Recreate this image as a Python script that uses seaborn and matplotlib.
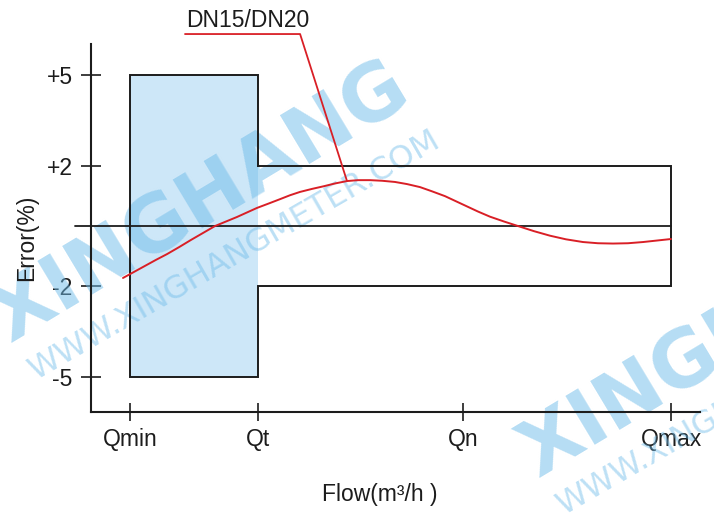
import matplotlib
matplotlib.use("Agg")
import matplotlib.pyplot as plt
import seaborn as sns

# flow points on the x axis (qualitative, no units in the picture)
flow_labels = ["Qmin", "Qt", "Qn", "Qmax"]
flow_pos = [1.30, 2.58, 4.63, 6.71]

# maximum permissible error (%)
mpe_low_zone = 5    # Qmin .. Qt
mpe_high_zone = 2   # Qt .. Qmax
error_ticks = [5, 2, -2, -5]
error_tick_labels = ["+5", "+2", "-2", "-5"]

# DN15/DN20 error curve
curve_flow = [1.23, 1.34, 1.45, 1.56, 1.67, 1.79, 1.91, 2.03, 2.15, 2.26,
              2.37, 2.47, 2.57, 2.69, 2.80, 2.90, 3.00, 3.12, 3.24, 3.35,
              3.47, 3.58, 3.70, 3.82, 3.95, 4.07, 4.20, 4.32, 4.45, 4.56,
              4.67, 4.78, 4.90, 5.04, 5.18, 5.34, 5.50, 5.66, 5.83, 5.98,
              6.13, 6.28, 6.43, 6.57, 6.71]
curve_error = [-1.72, -1.52, -1.32, -1.12, -0.93, -0.70, -0.46, -0.23, 0.00, 0.15,
               0.30, 0.45, 0.60, 0.75, 0.89, 1.02, 1.13, 1.23, 1.32, 1.41,
               1.49, 1.52, 1.52, 1.50, 1.46, 1.39, 1.29, 1.15, 0.99, 0.82,
               0.65, 0.48, 0.31, 0.15, 0.00, -0.17, -0.32, -0.44, -0.53, -0.57,
               -0.58, -0.57, -0.53, -0.48, -0.43]
curve_label = "DN15/DN20"
label_point = 20  # index of the curve point the leader line goes to

RED = "#d91f26"
BLUE_FILL = "#cde7f8"
INK = "#1c1c1c"

sns.set_style("white")
plt.rcParams["font.family"] = ["Liberation Sans Narrow", "Liberation Sans", "DejaVu Sans"]

W, H = 714, 514
fig = plt.figure(figsize=(W / 100, H / 100), dpi=100)
ax = fig.add_axes([91 / W, 102 / H, 609 / W, 368 / H])
ax.set_xlim(0.91, 7.00)
ax.set_ylim(-6.16, 6.03)

qmin, qt, qn, qmax = flow_pos

# low flow zone (+-5%)
ax.fill_between([qmin, qt], -mpe_low_zone, mpe_low_zone, color=BLUE_FILL,
                lw=0, zorder=1)

# watermark (sits over the fill, under the lines)
def watermark(px, py, big=True):
    if big:
        ax.text(px / W, 1 - py / H, "XINGHANG", transform=fig.transFigure,
                rotation=31, rotation_mode="anchor", ha="left", va="baseline",
                fontsize=56, fontweight="heavy", family="DejaVu Sans",
                color="#6dbbe9", alpha=0.5, zorder=1.5)
    else:
        ax.text(px / W, 1 - py / H, "WWW.XINGHANGMETER.COM",
                transform=fig.transFigure, rotation=30, rotation_mode="anchor",
                ha="left", va="baseline", fontsize=23, family="DejaVu Sans",
                color="#6dbbe9", alpha=0.45, zorder=1.5)


watermark(10, 343)
watermark(36, 380, big=False)
watermark(538, 478)
watermark(564, 515, big=False)

# error envelope outline
env_x = [qt, qt, qmin, qmin, qt, qt, qmax, qmax, qt]
env_y = [mpe_high_zone, mpe_low_zone, mpe_low_zone, -mpe_low_zone, -mpe_low_zone,
         -mpe_high_zone, -mpe_high_zone, mpe_high_zone, mpe_high_zone]
ax.plot(env_x, env_y, color=INK, lw=1.4, zorder=2, solid_joinstyle="miter")

# zero line
ax.plot([0.75, qmax], [0, 0], color=INK, lw=1.3, zorder=2, clip_on=False)

# error curve
sns.lineplot(x=curve_flow, y=curve_error, ax=ax, color=RED, lw=1.4,
             sort=False, zorder=3)

# curve label with leader line
ax.text(1.86, 6.59, curve_label, ha="left", va="baseline", fontsize=16.5,
        color=INK, clip_on=False)
ax.annotate("", xy=(curve_flow[label_point], curve_error[label_point]),
            xytext=(1.85, 6.36), annotation_clip=False,
            arrowprops=dict(arrowstyle="-", color=RED, lw=1.3, shrinkA=0,
                            shrinkB=0,
                            connectionstyle="angle,angleA=0,angleB=107.7,rad=0"))

# axes
for side in ["top", "right"]:
    ax.spines[side].set_visible(False)
for side in ["left", "bottom"]:
    ax.spines[side].set_linewidth(1.5)
    ax.spines[side].set_color(INK)

ax.set_xticks(flow_pos)
ax.set_xticklabels(flow_labels)
ax.set_yticks(error_ticks)
ax.set_yticklabels(error_tick_labels)
ax.tick_params(axis="y", left=True, direction="inout", length=14.4, width=1.2,
               pad=6, labelsize=16.5, colors=INK)
ax.tick_params(axis="x", bottom=True, direction="inout", length=13, width=1.2,
               pad=5, labelsize=16.5, colors=INK)

fig.text(27 / W, 1 - 238 / H, "Error(%)", rotation=90, ha="center",
         va="center", fontsize=16.5, color=INK)
fig.text(380 / W, 1 - 494 / H, "Flow(m³/h )", ha="center", va="center",
         fontsize=16.5, color=INK)

fig.savefig("out.png", dpi=100)
